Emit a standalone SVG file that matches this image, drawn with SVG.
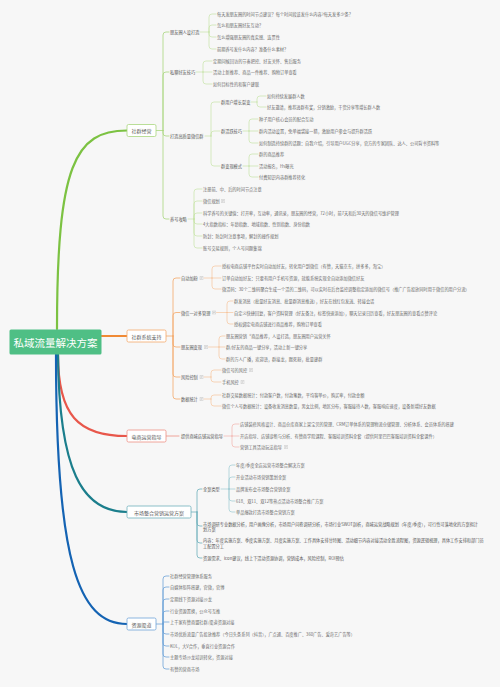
<svg xmlns="http://www.w3.org/2000/svg" xmlns:xlink="http://www.w3.org/1999/xlink" width="500" height="687" viewBox="0 0 500 687">
<style>
text{font-family:"Noto Sans CJK SC","Noto Sans",sans-serif;dominant-baseline:central}
.t{font-size:4.2px;fill:#6a6a6a}
.s{font-size:4.2px;fill:#555}
.b{font-size:5px;fill:#555;text-anchor:middle}
.r{font-size:10.5px;fill:#fff;text-anchor:middle}
.c{fill:none;stroke-linecap:round;stroke-linejoin:round}
.m{stroke-width:2.2}
.k1{stroke-width:0.8}
.k2{stroke-width:0.6}
.box{fill:#fff;stroke-width:0.8}
</style>
<defs>
<symbol id="note" viewBox="0 0 4 4"><rect x="0.3" y="0.3" width="3.4" height="3.4" rx="0.3" fill="#fff" stroke="#999" stroke-width="0.35"/><path d="M1 1.3H3M1 2H3M1 2.7H2.4" stroke="#999" stroke-width="0.3"/></symbol>
</defs>
<rect width="500" height="687" fill="#f7f7f7"/>
<g id="connectors">
<path class="c m" stroke="#7cc242" d="M57,329 C57,165 75,130.5 127,130.5"/>
<path class="c m" stroke="#f08a35" d="M101.5,336 H127"/>
<path class="c m" stroke="#e8574b" d="M58,354.5 C58,415 78,436 127,436"/>
<path class="c m" stroke="#1b7e8c" d="M58,354.5 C59,470 82,512 127,512"/>
<path class="c m" stroke="#1463b3" d="M56,354.5 C56,560 78,624 127,624"/>
<path class="c k1" stroke="#a9d77f" d="M156,130.5 H163 M163,130.5 V35 Q163,32 166,32 H169 M163,130.5 V75 Q163,72 166,72 H169 M163,130.5 V133 Q163,136 166,136 H169 M163,130.5 V216 Q163,219 166,219 H169"/>
<path class="c k2" stroke="#bfe19c" d="M200,32 H209 M209,32 V17 Q209,14 212,14 H216 M209,32 V28 Q209,25 212,25 H216 M209,32 V34 Q209,37 212,37 H216 M209,32 V46 Q209,49 212,49 H216
M196,72 H203 M203,72 V64 Q203,61 206,61 H212 M203,72 H212 M203,72 V81 Q203,84 206,84 H212
M205,136 H211 M211,136 V105 Q211,102 214,102 H220 M211,136 V134 Q211,131 214,131 H220 M211,136 V163 Q211,166 214,166 H220
M251,102 H257 M257,102 V99 Q257,96 260,96 H266 M257,102 V104 Q257,107 260,107 H266
M243,131 H249 M249,131 V122 Q249,119 252,119 H258 M249,131 H258 M249,131 V140 Q249,143 252,143 H258
M243,166 H249 M249,166 V157 Q249,154 252,154 H258 M249,166 H258 M249,166 V174 Q249,177 252,177 H258
M188,219 H194 M194,219 V192 Q194,189 197,189 H202 M194,219 V204 Q194,201 197,201 H202 M194,219 V216 Q194,213 197,213 H202 M194,219 V221 Q194,224 197,224 H202 M194,219 V233 Q194,236 197,236 H202 M194,219 V245 Q194,248 197,248 H202"/>
<path class="c k1" stroke="#f4a86a" d="M166,336 H173 M173,336 V281 Q173,278 176,278 H180 M173,336 V315.5 Q173,312.5 176,312.5 H180 M173,336 V344 Q173,347 176,347 H180 M173,336 V374 Q173,377 176,377 H180 M173,336 V396 Q173,399 176,399 H180"/>
<path class="c k2" stroke="#f6bd8e" d="M204,278 H212 M212,278 V269 Q212,266 215,266 H221 M212,278 H221 M212,278 V286 Q212,289 215,289 H221
M216.5,312.5 H227 M227,312.5 V304 Q227,301 230,301 H233 M227,312.5 H233 M227,312.5 V321 Q227,324 230,324 H233
M208.5,347 H219 M219,347 V339 Q219,336 222,336 H225 M219,347 H225 M219,347 V356 Q219,359 222,359 H225
M204,377 H211 M211,377 V373 Q211,370 214,370 H221 M211,377 V379 Q211,382 214,382 H221
M204,399 H211 M211,399 V398 Q211,395 214,395 H221 M211,399 V403 Q211,406 214,406 H221"/>
<path class="c k1" stroke="#ee8f84" d="M166,436 H179"/>
<path class="c k2" stroke="#f2aaa1" d="M224,436 H232 M232,436 V427 Q232,424 235,424 H239 M232,436 H239 M232,436 V444 Q232,447 235,447 H239"/>
<path class="c k1" stroke="#6fb0bb" d="M191,512 H197 M197,512 V492 Q197,489 200,489 H202 M197,512 V523 Q197,526 200,526 H202 M197,512 V540 Q197,543 200,543 H202 M197,512 V555 Q197,558 200,558 H202"/>
<path class="c k2" stroke="#8fc5cd" d="M221,489 H229 M229,489 V468 Q229,465 232,465 H235 M229,489 V480 Q229,477 232,477 H235 M229,489 H235 M229,489 V498 Q229,501 232,501 H235 M229,489 V509 Q229,512 232,512 H235"/>
<path class="c k1" stroke="#6fa3d8" d="M156,624 H163 M163,624 V579 Q163,576 166,576 H169 M163,624 V590 Q163,587 166,587 H169 M163,624 V602 Q163,599 166,599 H169 M163,624 V614 Q163,611 166,611 H169 M163,624 V622 H169 M163,624 V631 Q163,634 166,634 H169 M163,624 V643 Q163,646 166,646 H169 M163,624 V654 Q163,657 166,657 H169 M163,624 V666 Q163,669 166,669 H169"/>
</g>
<g id="root"><rect x="9.5" y="329.5" width="92" height="25" rx="1.5" fill="#4fbf85"/><text class="r" x="55.5" y="342">私域流量解决方案</text></g>
<g id="b1"><rect class="box" x="127" y="124.5" width="29" height="12" rx="1.5" stroke="#a9d77f"/><text class="b" x="141.5" y="130.5">社群经营</text></g>
<g id="b2"><rect class="box" x="127" y="330" width="39" height="12" rx="1.5" stroke="#f4a86a"/><text class="b" x="146.5" y="336">社群系统支持</text></g>
<g id="b3"><rect class="box" x="127" y="430" width="39" height="12" rx="1.5" stroke="#ee8f84"/><text class="b" x="146.5" y="436">电商运营指导</text></g>
<g id="b4"><rect class="box" x="127" y="506" width="64" height="12" rx="1.5" stroke="#6fb0bb"/><text class="b" x="159" y="512">市场整合营销运营方案</text></g>
<g id="b5"><rect class="box" x="127" y="618" width="29" height="12" rx="1.5" stroke="#6fa3d8"/><text class="b" x="141.5" y="624">资源渠道</text></g>
<g id="g1"><text class="s" x="170" y="32">朋友圈人设打造</text></g>
<g id="g1a"><text class="t" x="217" y="14">每天发朋友圈的时间节点建议？每个时间段该发什么内容?每天发多少条？</text></g>
<g id="g1b"><text class="t" x="217" y="25">怎么和朋友圈好友互动？</text></g>
<g id="g1c"><text class="t" x="217" y="37">怎么增强朋友圈的真实感、连贯性</text></g>
<g id="g1d"><text class="t" x="217" y="49">前期养号发什么内容？准备什么素材？</text></g>
<g id="g2"><text class="s" x="170" y="72">私聊好友技巧</text></g>
<g id="g2a"><text class="t" x="213" y="61">定期问候回访的节奏把控、好友关怀、售后服务</text></g>
<g id="g2b"><text class="t" x="213" y="72">活动上新推荐、商品一件推荐、购物订单查看</text></g>
<g id="g2c"><text class="t" x="213" y="84">如何目标性的和客户建联</text></g>
<g id="g3"><text class="s" x="170" y="136">打造高质量微信群</text></g>
<g id="g3a"><text class="s" x="221" y="102">群用户增长裂变</text></g>
<g id="g3a1"><text class="t" x="267" y="96">如何持续发展群人数</text></g>
<g id="g3a2"><text class="t" x="267" y="107">好友邀请，推荐进群有奖，分销激励，干货分享等增长群人数</text></g>
<g id="g3b"><text class="s" x="221" y="131">群活跃技巧</text></g>
<g id="g3b1"><text class="t" x="259" y="119">种子用户核心会员的配合互动</text></g>
<g id="g3b2"><text class="t" x="259" y="131">群内活动设置，免单福袋接一猜，激励用户参会与提升群活跃</text></g>
<g id="g3b3"><text class="t" x="259" y="143">如何制造持续群的话题：自我介绍，引导用户UGC分享，官方的专家团队、达人、公司背书资料等</text></g>
<g id="g3c"><text class="s" x="221" y="166">群变现模式</text></g>
<g id="g3c1"><text class="t" x="259" y="154">群的商品推荐</text></g>
<g id="g3c2"><text class="t" x="259" y="166">活动报名，H5曝光</text></g>
<g id="g3c3"><text class="t" x="259" y="177">付费知识内容群推荐转化</text></g>
<g id="g4"><text class="s" x="170" y="219">养号攻略</text></g>
<g id="g4a"><text class="t" x="203" y="189">注册前、中、后的时间节点注意</text></g>
<g id="g4b"><text class="t" x="203" y="201">微信规划</text><use href="#note" x="221" y="199" width="4" height="4"/></g>
<g id="g4c"><text class="t" x="203" y="213">科学养号的关键值：打开率，互动率，通讯录，朋友圈的经营，72小时，前7天和后30天的微信号维护管理</text></g>
<g id="g4d"><text class="t" x="203" y="224">4大指数指标：年龄指数、地域指数、性别指数、身份指数</text></g>
<g id="g4e"><text class="t" x="203" y="236">防封：防封时注意事项，解封的操作规划</text></g>
<g id="g4f"><text class="t" x="203" y="248">账号交易规则，个人号问题集锦</text></g>
<g id="o1"><text class="s" x="181" y="278">自动加粉</text><use href="#note" x="199.5" y="276" width="4" height="4"/></g>
<g id="o1a"><text class="t" x="222" y="266">授权电商店铺平台实时自动加好友，转化用户到微信（有赞，天猫京东，拼多多，淘宝）</text></g>
<g id="o1b"><text class="t" x="222" y="278">订单自动加好友：只要有用户手机号资源，就能系统实现全自动添加微信好友</text></g>
<g id="o1c"><text class="t" x="222" y="289">微活码：30个二维码聚合生成一个活的二维码，可以实时在后台监控调整指定添加的微信号（推广广告投放同时用于微信的用户分流）</text></g>
<g id="o2"><text class="s" x="181" y="312.5">微信一对多管理</text><use href="#note" x="212" y="310.5" width="4" height="4"/></g>
<g id="o2a"><text class="t" x="234" y="301">群发消息（批量好友消息、批量群消息推送），好友在线红包发送、转接会话</text></g>
<g id="o2b"><text class="t" x="234" y="312.5">自定义快捷回复，客户资料管理（好友备注，标签快速添加），聊天记录日历查看，好友朋友圈的查看点赞评论</text></g>
<g id="o2c"><text class="t" x="234" y="324">授权绑定电商店铺进行商品推荐，购物订单查看</text></g>
<g id="o3"><text class="s" x="181" y="347">朋友圈变现</text><use href="#note" x="204" y="345" width="4" height="4"/></g>
<g id="o3a"><text class="t" x="226" y="336">朋友圈营销“商品推荐，人设打造，朋友圈用户运营关怀</text></g>
<g id="o3b"><text class="t" x="226" y="347">群/好友的商品一键分享，活动上新一键分享</text></g>
<g id="o3c"><text class="t" x="226" y="359">群的万人广播，欢迎语，群接龙，踢死粉，批量建群</text></g>
<g id="o4"><text class="s" x="181" y="377">风险控制</text><use href="#note" x="199.5" y="375" width="4" height="4"/></g>
<g id="o4a"><text class="t" x="222" y="370">微信号的风控</text><use href="#note" x="249" y="368" width="4" height="4"/></g>
<g id="o4b"><text class="t" x="222" y="382">手机风控</text><use href="#note" x="240.5" y="380" width="4" height="4"/></g>
<g id="o5"><text class="s" x="181" y="399">数据统计</text><use href="#note" x="199.5" y="397" width="4" height="4"/></g>
<g id="o5a"><text class="t" x="222" y="395">社群交易数据统计：付款客户数，付款笔数，平均客单价，购买率，付款金额</text></g>
<g id="o5b"><text class="t" x="222" y="406">微信个人号数据统计：设备收发消息数量，男女比例，地区分布，客服接待人数，客服响应速度，设备新增好友数据</text></g>
<g id="r1"><text class="s" x="181" y="436">提供商城店铺运营指导</text></g>
<g id="r1a"><text class="t" x="240" y="424">店铺装修风格设计、商品仓库商家上架宝贝的管理、CRM订单体系的管理物流仓储管理、分析体系、会员体系的搭建</text></g>
<g id="r1b"><text class="t" x="240" y="436">开店指导、店铺诊断与分析、有赞商学院课程、客服培训资料全套（提供阿里巴巴客服培训资料全套课件）</text></g>
<g id="r1c"><text class="t" x="240" y="447">营销工具活动玩法指导</text><use href="#note" x="284" y="445" width="4" height="4"/></g>
<g id="m1"><text class="s" x="203" y="489">全案类型</text></g>
<g id="m1a"><text class="t" x="236" y="465">年度/季度全店运营市场整合解决方案</text></g>
<g id="m1b"><text class="t" x="236" y="477">开业活动市场营销策划全案</text></g>
<g id="m1c"><text class="t" x="236" y="489">品牌发布会市场整合营销全案</text></g>
<g id="m1d"><text class="t" x="236" y="501">618、双11、双12等热点活动市场整合推广方案</text></g>
<g id="m1e"><text class="t" x="236" y="512">单品爆款打造市场整合营销方案</text></g>
<g id="m2"><text class="s" x="203" y="523.5">市场调研专业数据分析，用户画像分析，市场用户问卷调研分析，市场行业SWOT剖析，商城运营战略规划（年度/季度），可行性可落地化的方案拟计</text><text class="s" x="203" y="529">划方案</text></g>
<g id="m3"><text class="s" x="203" y="540">内容：年度实施方案、季度实施方案、月度实施方案、工作具体安排甘特图、活动细节内容对接活动全胜流程图，资源逻辑梳理，具体工作安排和部门员</text><text class="s" x="203" y="545.7">工配置分工</text></g>
<g id="m4"><text class="s" x="203" y="558">资源需求、icon建议，线上下活动资源协调，营销成本，风险控制，ROI预估</text></g>
<g id="u1"><text class="t" x="170" y="576">社群经营管理体系服务</text></g>
<g id="u2"><text class="t" x="170" y="587">自媒体矩阵搭建，官微，官博</text></g>
<g id="u3"><text class="t" x="170" y="599">定期线下资源对接沙龙</text></g>
<g id="u4"><text class="t" x="170" y="611">行业资源置换，公众号互推</text></g>
<g id="u5"><text class="t" x="170" y="622">上千家有赞商盟社群/渠道资源对接</text></g>
<g id="u6"><text class="t" x="170" y="634">市场优质流量广告投放推荐（今日头条系列（抖音），广点通、百度推广、360广告、爱奇艺广告等）</text></g>
<g id="u7"><text class="t" x="170" y="646">KOL，大V合作，垂直行业资源合作</text></g>
<g id="u8"><text class="t" x="170" y="657">主题专场沙龙培训转化，资源对接</text></g>
<g id="u9"><text class="t" x="170" y="669">有赞的营商市场</text></g>
</svg>
